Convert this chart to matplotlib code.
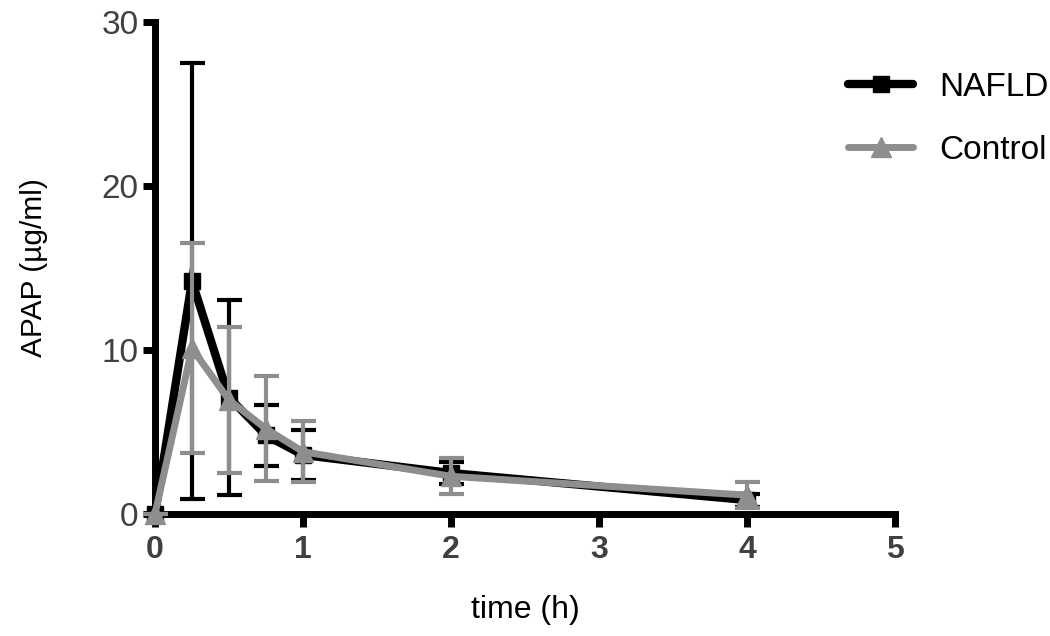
import numpy as np
import matplotlib
matplotlib.use('Agg')
import matplotlib.pyplot as plt
from matplotlib.lines import Line2D

plt.rcParams['font.family'] = ['Liberation Sans', 'DejaVu Sans']

# sampling times (h)
time_h = [0, 0.25, 0.5, 0.75, 1, 2, 4]

# APAP concentration, mean and SD (ug/ml)
nafld_mean = [0, 14.2, 7.1, 4.8, 3.6, 2.5, 0.85]
nafld_sd = [0, 13.3, 5.95, 1.85, 1.5, 0.65, 0.4]
control_mean = [0, 10.1, 6.95, 5.2, 3.8, 2.3, 1.15]
control_sd = [0, 6.4, 4.45, 3.2, 1.85, 1.1, 0.8]

black = '#000000'
grey = '#8e8e8e'
tick_col = '#404040'

fig = plt.figure(figsize=(10.5, 6.36), dpi=100)
ax = fig.add_axes([0.1476, 0.1918, 0.7048, 0.7736])

# NAFLD
ax.errorbar(time_h, nafld_mean, yerr=nafld_sd, fmt='none', ecolor=black,
            elinewidth=3, capsize=9, capthick=3, clip_on=False, zorder=2)
ax.plot(time_h, nafld_mean, color=black, lw=6, marker='s', ms=12,
        solid_joinstyle='miter', clip_on=False, zorder=3)

# Control
ax.errorbar(time_h, control_mean, yerr=control_sd, fmt='none', ecolor=grey,
            elinewidth=3, capsize=9, capthick=3, clip_on=False, zorder=4)
ax.plot(time_h, control_mean, color=grey, lw=5, marker='^', ms=14,
        clip_on=False, zorder=5)

ax.set_xlim(0, 5)
ax.set_ylim(0, 30)
ax.set_xticks([0, 1, 2, 3, 4, 5])
ax.set_yticks([0, 10, 20, 30])

for s in ['top', 'right']:
    ax.spines[s].set_visible(False)
for s in ['left', 'bottom']:
    ax.spines[s].set_linewidth(5)
    ax.spines[s].set_capstyle('projecting')

ax.tick_params(axis='both', length=9, width=5, color=black, direction='out')
ax.tick_params(axis='y', labelsize=24, labelcolor=tick_col, pad=3)
ax.tick_params(axis='x', labelsize=23, labelcolor=tick_col, pad=6)
for lab in ax.get_xticklabels():
    lab.set_fontweight('bold')

ax.set_xlabel('time (h)', fontsize=23, labelpad=22)
ax.set_ylabel('APAP (µg/ml)', fontsize=21.5, labelpad=38)

handles = [
    Line2D([], [], color=black, lw=6, marker='s', ms=12, solid_capstyle='round'),
    Line2D([], [], color=grey, lw=5, marker='^', ms=14, solid_capstyle='round'),
]
fig.legend(handles, ['NAFLD', 'Control'], loc='upper left',
           bbox_to_anchor=(848 / 1050, 1 - 72 / 636), frameon=False,
           fontsize=24, handlelength=1.95, handletextpad=0.8,
           labelspacing=0.95, borderpad=0, borderaxespad=0)

fig.savefig('out.png', dpi=100)
